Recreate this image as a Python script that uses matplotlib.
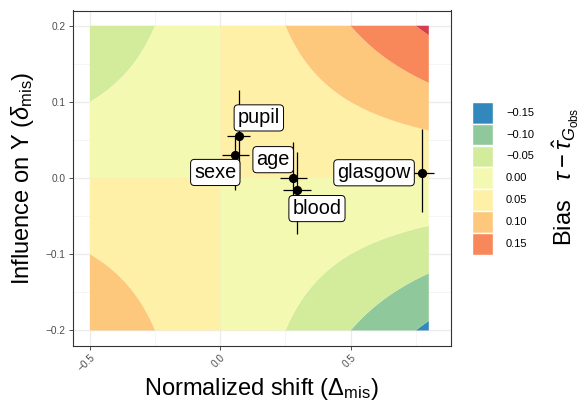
import numpy as np
import matplotlib
matplotlib.use("Agg")
import matplotlib.pyplot as plt
from matplotlib.patches import Rectangle

plt.rcParams['font.family'] = ['Liberation Sans', 'DejaVu Sans']
plt.rcParams['mathtext.fontset'] = 'custom'
plt.rcParams['mathtext.rm'] = 'Liberation Sans'
plt.rcParams['mathtext.it'] = 'Liberation Sans:italic'
plt.rcParams['mathtext.bf'] = 'Liberation Sans:bold'

# ---- data ----
shift_grid = np.linspace(-0.5, 0.8, 261)       # normalized shift axis of the surface
influence_grid = np.linspace(-0.2, 0.2, 161)   # influence on Y axis of the surface
bias_levels = [-0.20, -0.15, -0.10, -0.05, 0.00, 0.05, 0.10, 0.15, 0.20]
bias_colors = ['#3288BD', '#8FC99B', '#D2EC9B', '#F4F9B1', '#FEF0A7', '#FDC77C', '#F8875A', '#D53E4F']
legend_labels = ['\u22120.15', '\u22120.10', '\u22120.05', '0.00', '0.05', '0.10', '0.15']

names = ['sexe', 'pupil', 'age', 'blood', 'glasgow']
shift = [0.056, 0.071, 0.280, 0.293, 0.775]
influence = [0.0305, 0.0558, 0.0004, -0.0157, 0.0065]
shift_lo = [0.005, 0.027, 0.229, 0.239, 0.731]
shift_hi = [0.110, 0.116, 0.334, 0.349, 0.819]
infl_lo = [-0.016, 0.000, -0.055, -0.074, -0.044]
infl_hi = [0.055, 0.116, 0.047, 0.034, 0.064]
label_x = [-0.019, 0.148, 0.203, 0.371, 0.590]
label_y = [0.0074, 0.079, 0.0242, -0.040, 0.007]

xticks = [-0.5, 0.0, 0.5]
yticks = [-0.2, -0.1, 0.0, 0.1, 0.2]

# ---- figure ----
W, H = 587, 403
fig = plt.figure(figsize=(W / 100, H / 100), dpi=100)
L, R, T, B = 72.7, 450.7, 10.5, 345.7
ax = fig.add_axes([L / W, 1 - B / H, (R - L) / W, (B - T) / H])

X, Y = np.meshgrid(shift_grid, influence_grid)
Z = X * Y
ax.contourf(X, Y, Z, levels=bias_levels, colors=bias_colors, antialiased=True, zorder=1)

sx = np.array(shift); sy = np.array(influence)
xerr = [sx - np.array(shift_lo), np.array(shift_hi) - sx]
yerr = [sy - np.array(infl_lo), np.array(infl_hi) - sy]
ax.errorbar(sx, sy, xerr=xerr, yerr=yerr, fmt='none', ecolor='black', elinewidth=0.9, capsize=0, zorder=3)
ax.plot(sx, sy, 'o', color='black', markersize=5.6, zorder=4)

for n, lx, ly in zip(names, label_x, label_y):
    ax.text(lx, ly, n, ha='center', va='center', fontsize=14.3, zorder=5,
            bbox=dict(boxstyle='round,pad=0.18,rounding_size=0.2', fc='white', ec='black', lw=0.7))

ax.set_xlim(-0.566, 0.884)
ax.set_ylim(-0.22, 0.22)
ax.set_xticks(xticks)
ax.set_xticklabels(['\u22120.5', '0.0', '0.5'], rotation=45, ha='right', va='top', rotation_mode='anchor')
ax.set_yticks(yticks)
ax.set_yticklabels(['\u22120.2', '\u22120.1', '0.0', '0.1', '0.2'])
ax.set_xticks([-0.25, 0.25, 0.75], minor=True)
ax.set_yticks([-0.15, -0.05, 0.05, 0.15], minor=True)
ax.tick_params(axis='both', which='major', labelsize=7.3, labelcolor='#4D4D4D', color='#333333',
               length=3, width=0.6, pad=2)
ax.tick_params(axis='both', which='minor', length=0)
ax.set_axisbelow(True)
ax.grid(True, which='major', color='#EBEBEB', lw=0.9)
ax.grid(True, which='minor', color='#F2F2F2', lw=0.5)
for s in ax.spines.values():
    s.set_color('#333333'); s.set_linewidth(0.8)

fig.text((L + R) / 2 / W, 1 - 389 / H, r'Normalized shift ($\Delta_{\mathrm{mis}}$)', ha='center', va='center', fontsize=17)
fig.text(23 / W, 1 - (T + B) / 2 / H, r'Influence on Y ($\delta_{\mathrm{mis}}$)', ha='center', va='center',
         rotation=90, fontsize=17)

# ---- legend ----
lx0, lx1, ly0, ly1 = 471.7, 492.7, 101.7, 255.0
lax = fig.add_axes([lx0 / W, 1 - ly1 / H, (lx1 - lx0) / W, (ly1 - ly0) / H])
lax.set_xlim(0, 1); lax.set_ylim(7, 0)
lax.axis('off')
for i, (c, lab) in enumerate(zip(bias_colors[:7], legend_labels)):
    lax.add_patch(Rectangle((0, i), 1, 1, fc=c, ec='white', lw=1.0))
    fig.text(506 / W, 1 - (ly0 + (i + 0.5) * (ly1 - ly0) / 7) / H, lab, ha='left', va='center',
             fontsize=8, color='black')

fig.text(566 / W, 1 - 177 / H, r'Bias   $\tau - \hat{\tau}_{G_{\mathrm{obs}}}$', ha='center', va='center',
         rotation=90, fontsize=17)

fig.savefig('out.png', dpi=100)
